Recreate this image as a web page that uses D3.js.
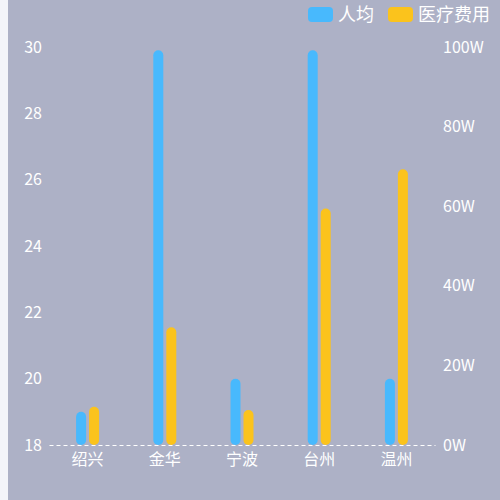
<!DOCTYPE html>
<html>
<head>
<meta charset="utf-8">
<script src="https://cdn.jsdelivr.net/npm/d3@7"></script>
<style>
  html, body { margin: 0; padding: 0; background: #f3f4f9; }
  #chart { position: absolute; left: 8px; top: 0; width: 492px; height: 500px; background: #adb1c6; }
  text { font-family: "Noto Sans CJK SC", "Noto Sans", sans-serif; }
</style>
</head>
<body>
<div id="chart"></div>
<script>

// chart data
var categories = ['绍兴', '金华', '宁波', '台州', '温州'];
var series_names = ['人均', '医疗费用'];
var per_capita = [19, 29.9, 20, 29.9, 20];
var medical_cost = [9.6, 29.6, 8.8, 59.4, 69.3];   // unit : W
var left_ticks = [18, 20, 22, 24, 26, 28, 30];
var right_ticks = [0, 20, 40, 60, 80, 100];

var app_bar_chart = (function () {

  var colors = ['#48b9fd', '#fbc31c'];
  var width = 492, height = 500;
  // plot area, in chart-div coordinates
  var margin = { top: 47, right: 65, bottom: 55, left: 41 };
  var bar_width = 10;
  var bar_gap = 3;

  function draw() {
    var svg = d3.select('#chart').append('svg')
      .attr('width', width)
      .attr('height', height);

    var x = d3.scaleBand()
      .domain(categories)
      .range([margin.left, width - margin.right]);

    var y_left = d3.scaleLinear()
      .domain([18, 30])
      .range([height - margin.bottom, margin.top]);

    var y_right = d3.scaleLinear()
      .domain([0, 100])
      .range([height - margin.bottom, margin.top]);

    // left axis
    var left_axis = svg.append('g')
      .attr('transform', 'translate(' + margin.left + ',0)')
      .call(d3.axisLeft(y_left).tickValues(left_ticks).tickSize(0).tickPadding(7));

    // right axis
    var right_axis = svg.append('g')
      .attr('transform', 'translate(' + (width - margin.right) + ',0)')
      .call(d3.axisRight(y_right).tickValues(right_ticks).tickSize(0).tickPadding(8)
        .tickFormat(function (d) { return d + 'W'; }));

    // bottom axis
    var bottom_axis = svg.append('g')
      .attr('transform', 'translate(0,' + (height - margin.bottom) + ')')
      .call(d3.axisBottom(x).tickSize(0).tickPadding(9));

    [left_axis, right_axis].forEach(function (g) {
      g.select('.domain').remove();
    });
    bottom_axis.select('.domain')
      .attr('stroke', '#ffffff')
      .attr('stroke-dasharray', '4,3');

    svg.selectAll('.tick text')
      .attr('fill', '#ffffff')
      .attr('font-size', 16)
      .style('font-family', '"Noto Sans CJK SC", "Noto Sans", sans-serif');

    // bars, pill shaped
    var base = height - margin.bottom;
    var groups = [
      { values: per_capita, scale: y_left, offset: -(bar_width + bar_gap) / 2 },
      { values: medical_cost, scale: y_right, offset: (bar_width + bar_gap) / 2 }
    ];

    groups.forEach(function (grp, gi) {
      svg.append('g').selectAll('rect')
        .data(grp.values)
        .enter()
        .append('rect')
        .attr('x', function (d, i) {
          return x(categories[i]) + x.bandwidth() / 2 + grp.offset - bar_width / 2;
        })
        .attr('y', function (d) { return grp.scale(d); })
        .attr('width', bar_width)
        .attr('height', function (d) { return base - grp.scale(d); })
        .attr('rx', bar_width / 2)
        .attr('fill', colors[gi]);
    });

    // legend
    var legend = svg.append('g');
    var legend_x = [300, 380];
    series_names.forEach(function (name, i) {
      var item = legend.append('g')
        .attr('transform', 'translate(' + legend_x[i] + ',7)');
      item.append('rect')
        .attr('width', 25)
        .attr('height', 15)
        .attr('rx', 4)
        .attr('fill', colors[i]);
      item.append('text')
        .attr('x', 30)
        .attr('y', 14)
        .attr('font-size', 18)
        .attr('fill', '#ffffff')
        .text(name);
    });
  }

  return {
    'draw' : draw
  }

}());

app_bar_chart.draw();
</script>
</body>
</html>
